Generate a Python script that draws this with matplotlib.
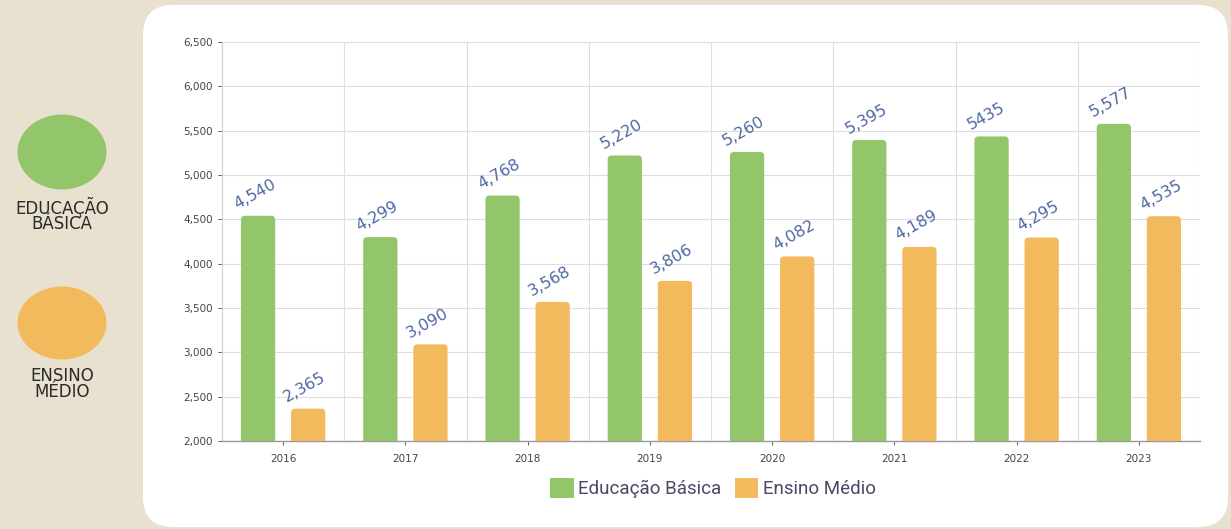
import numpy as np
import matplotlib
matplotlib.use("Agg")
import matplotlib.pyplot as plt
from matplotlib.patches import FancyBboxPatch, Ellipse, Patch
from matplotlib.ticker import FuncFormatter

# data
anos = ["2016", "2017", "2018", "2019", "2020", "2021", "2022", "2023"]
basica = [4540, 4299, 4768, 5220, 5260, 5395, 5435, 5577]
medio = [2365, 3090, 3568, 3806, 4082, 4189, 4295, 4535]
rot_basica = ["4,540", "4,299", "4,768", "5,220", "5,260", "5,395", "5435", "5,577"]
rot_medio = ["2,365", "3,090", "3,568", "3,806", "4,082", "4,189", "4,295", "4,535"]

VERDE = "#93c66a"
LARANJA = "#f2b95d"
BEGE = "#e9e1d0"
AZUL = "#4f68a3"

W, H = 1231, 529
fig = plt.figure(figsize=(W / 100, H / 100), dpi=100)
fig.patch.set_facecolor(BEGE)

# background layer in pixel coords
bg = fig.add_axes([0, 0, 1, 1], zorder=-5)
bg.set_xlim(0, W)
bg.set_ylim(H, 0)
bg.axis("off")
bg.add_patch(FancyBboxPatch((143, 5), 1085, 522, boxstyle="round,pad=0,rounding_size=30",
                            fc="white", ec="none"))
bg.add_patch(Ellipse((62, 152), 89, 75, fc=VERDE, ec="none"))
bg.add_patch(Ellipse((62, 323), 89, 73, fc=LARANJA, ec="none"))
bg.text(62, 215, "EDUCAÇÃO\nBÁSICA", ha="center", va="center", fontsize=12,
        color="#2a2a2a", linespacing=0.85)
bg.text(62, 384, "ENSINO\nMÉDIO", ha="center", va="center", fontsize=12,
        color="#2a2a2a", linespacing=0.85)

ax = fig.add_axes([222 / W, 1 - 441 / H, (1200 - 222) / W, (441 - 42) / H])
ax.set_facecolor("none")
x = np.arange(len(anos))
ax.set_xlim(-0.5, len(anos) - 0.5)
ax.set_ylim(2000, 6500)

larg = 0.28
desl = 0.205
# rounding: x units per px vs y units per px
asp = (4500 / 399) * 122
r = 4 / 122

def barras(pos, vals, cor):
    for xi, v in zip(pos, vals):
        p = FancyBboxPatch((xi - larg / 2, 1800), larg, v - 1800,
                           boxstyle="round,pad=0,rounding_size=%f" % r,
                           mutation_aspect=asp, fc=cor, ec="none", zorder=3)
        ax.add_patch(p)

barras(x - desl, basica, VERDE)
barras(x + desl, medio, LARANJA)

for xi, v, t in zip(x - desl, basica, rot_basica):
    ax.text(xi - larg / 2 - 0.02, v + 40, t, rotation=29, rotation_mode="anchor",
            ha="left", va="bottom", fontsize=11.5, color=AZUL, zorder=4)
for xi, v, t in zip(x + desl, medio, rot_medio):
    ax.text(xi - larg / 2 - 0.02, v + 40, t, rotation=29, rotation_mode="anchor",
            ha="left", va="bottom", fontsize=11.5, color=AZUL, zorder=4)

ax.set_yticks(np.arange(2000, 6501, 500))
ax.yaxis.set_major_formatter(FuncFormatter(lambda v, p: "{:,.0f}".format(v)))
ax.set_xticks(x)
ax.set_xticklabels(anos)
ax.set_xticks(np.arange(-0.5, len(anos), 1), minor=True)
ax.tick_params(axis="both", which="major", labelsize=7.5, colors="#444444", length=3, width=0.6)
ax.tick_params(axis="x", which="minor", length=0)
ax.tick_params(axis="x", pad=6)
ax.grid(axis="y", which="major", color="#dedede", lw=0.8, zorder=0)
ax.grid(axis="x", which="minor", color="#dedede", lw=0.8, zorder=0)
for s in ["top", "right"]:
    ax.spines[s].set_visible(False)
ax.spines["left"].set_color("#d0d0d0")
ax.spines["left"].set_linewidth(0.8)
ax.spines["bottom"].set_color("#999999")
ax.spines["bottom"].set_linewidth(1.0)

leg = fig.legend(handles=[Patch(fc=VERDE, label="Educação Básica"),
                          Patch(fc=LARANJA, label="Ensino Médio")],
                 loc="center", bbox_to_anchor=(713 / W, 1 - 488 / H), ncol=2,
                 frameon=False, handlelength=1.25, handleheight=1.25,
                 handletextpad=0.25, columnspacing=0.7,
                 prop={"family": "Roboto", "size": 13.5})
for t in leg.get_texts():
    t.set_color("#4a4866")

fig.savefig("out.png", dpi=100, facecolor=fig.get_facecolor())
